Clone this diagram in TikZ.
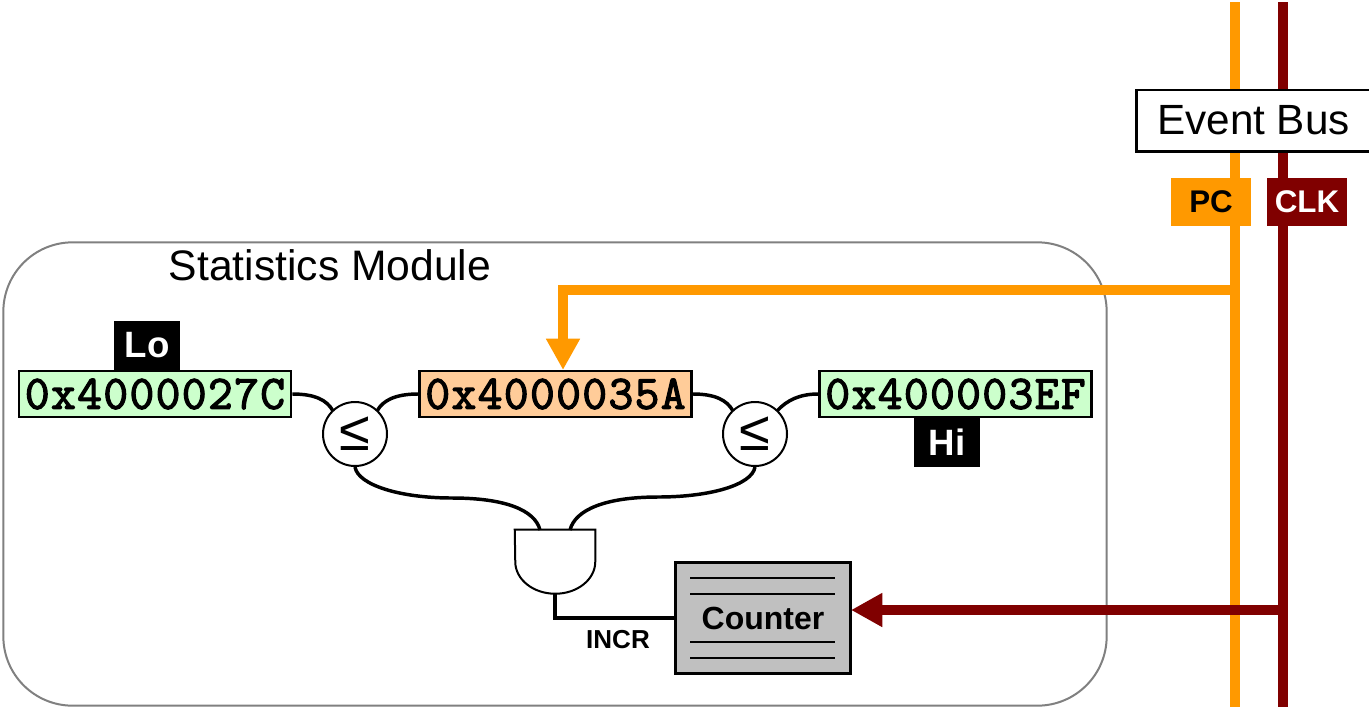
\documentclass[tikz,border=0pt]{standalone}
\usepackage{fontspec}
\setmainfont{Liberation Sans}
\newfontfamily\addrfont[FakeBold=2.6,LetterSpace=3]{Latin Modern Mono}
\usepackage{tikz}
\usetikzlibrary{arrows.meta}
\definecolor{pcorange}{HTML}{FF9900}
\definecolor{clkred}{HTML}{800000}
\tikzset{%
  register/.style = {shape=rectangle, draw, line width=2pt, inner sep=0pt,%
                     minimum width=204pt, minimum height=34.5pt,%
                     font=\fontsize{36pt}{36pt}\addrfont},%
  bound/.style    = {register, fill=boundgreen},%
  tag/.style      = {shape=rectangle, fill=black, text=white, inner sep=0pt,%
                     minimum width=49.5pt, minimum height=36.75pt,%
                     font=\fontsize{27.5pt}{27.5pt}\bfseries},%
  cmp/.style      = {circle, draw, fill=white, line width=1.5pt, inner sep=0pt,%
                     minimum size=48pt, font=\fontsize{42pt}{42pt}\selectfont},%
  bustag/.style   = {shape=rectangle, inner sep=0pt, minimum width=60pt,%
                     minimum height=36pt, font=\fontsize{23.5pt}{23.5pt}\bfseries},%
  wire/.style     = {line width=2.6pt},%
  bus/.style      = {line width=7.5pt},%
  tip/.style      = {-{Triangle[length=23.5pt,width=24pt]}}%
}
\definecolor{boundgreen}{HTML}{CCFFCC}
\definecolor{addrorange}{HTML}{FFCC99}
\definecolor{countgray}{HTML}{C0C0C0}
\begin{document}
\begin{tikzpicture}[x=0.75pt,y=-0.75pt]
  \useasboundingbox (0,0) rectangle (1369,707);
  % module outline
  \node (module) at (555,474) [draw=gray, line width=1.5pt, rounded corners=52pt,%
                               minimum width=827.5pt, minimum height=347.5pt] {};
  \node (title) at (330,265) {\fontsize{32pt}{32pt}\selectfont Statistics Module};
  % registers
  \node (lo) at (155,394) [bound] {0x4000027C};
  \node (pc) at (555.5,394) [register, fill=addrorange] {0x4000035A};
  \node (hi) at (955.5,394) [bound] {0x400003EF};
  \node (lotag) at (147,345.5) [tag] {Lo};
  \node (hitag) at (947,442.5) [tag] {Hi};
  \node (cmplo) at (355,434) [cmp] {≤};
  \node (cmphi) at (755,434) [cmp] {≤};
  % and gate, outline added below
  \node (gate) at (555,562) [minimum width=60pt, minimum height=48pt, inner sep=0pt] {};
  \draw[line width=1.5pt] (gate.north west) -- (gate.north east) -- ++(0,32)
    arc[start angle=0, end angle=180, x radius=40, y radius=32] -- cycle;
  % counter
  \node (counter) at (763,618) [draw, line width=2pt, fill=countgray, inner sep=0pt,%
                                minimum width=131pt, minimum height=83pt,%
                                font=\fontsize{24pt}{24pt}\bfseries] {Counter};
  \foreach \y in {578,594,642,658}
    \draw[line width=1.5pt] (690,\y) -- (835,\y);
  \node (incr) at (618,640) [font=\fontsize{19.5pt}{19.5pt}\bfseries] {INCR};
  % wires
  \draw[wire] (lo.east) .. controls (315,394) and (327,400) .. (333,411);
  \draw[wire] (pc.west) .. controls (396,394) and (383,400) .. (377,411);
  \draw[wire] (hi.west) .. controls (800,394) and (787,400) .. (777,411);
  \draw[wire] (pc.east) .. controls (715,394) and (727,400) .. (733,411);
  \draw[wire] (cmplo.south) .. controls (358,485) and (400,498) .. (452,498)
    .. controls (505,498) and (535,510) .. (540,530);
  \draw[wire] (cmphi.south) .. controls (752,485) and (710,497) .. (658,497)
    .. controls (605,497) and (575,510) .. (570,530);
  \draw[line width=3pt] (gate.south) -- (555,618) -- (counter.west);
  % buses
  \coordinate (pctop) at (1235,2);
  \coordinate (pcbot) at (1235,707);
  \coordinate (pctap) at (1235,290);
  \coordinate (clktop) at (1283,2);
  \coordinate (clkbot) at (1283,707);
  \coordinate (clktap) at (1283,610);
  \coordinate (pcin) at (563,370);
  \coordinate (clkin) at (851,610);
  \draw[bus, pcorange] (pctop) -- (pcbot);
  \draw[bus, clkred] (clktop) -- (clkbot);
  \draw[bus, pcorange, tip] (pctap) -| (pcin);
  \draw[bus, clkred, tip] (clktap) -- (clkin);
  \node (eventbus) at (1253.5,120.5) [draw, fill=white, line width=2pt, inner sep=0pt,%
                                      minimum width=175.5pt, minimum height=46pt,%
                                      font=\fontsize{31.7pt}{31.7pt}\selectfont] {Event Bus};
  \node (pctag) at (1211,202) [bustag, fill=pcorange] {PC};
  \node (clktag) at (1307,202) [bustag, fill=clkred, text=white] {CLK};
\end{tikzpicture}
\end{document}
